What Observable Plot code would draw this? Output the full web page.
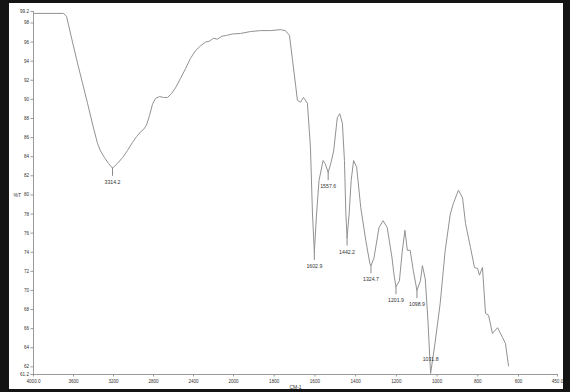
<!DOCTYPE html>
<html><head><meta charset="utf-8">
<script src="https://cdn.jsdelivr.net/npm/d3@7"></script>
<script src="https://cdn.jsdelivr.net/npm/@observablehq/plot@0.6"></script>
<style>
html,body{margin:0;padding:0;background:#141414;width:570px;height:392px;overflow:hidden}
#chart{position:absolute;left:9px;top:3px;width:554px;height:386px;background:#fff}
#chart svg{display:block}
</style></head><body><div id="chart"></div>
<script>
// FTIR spectrum: wavenumber (cm-1) and transmittance (%T)
const wavenumber = [3990, 3700, 3670, 3650, 3610, 3560, 3510, 3460, 3400, 3360, 3330, 3290, 3250, 3210,
  3160, 3110, 3060, 3010, 2970, 2930, 2900, 2870, 2840, 2810, 2780, 2740, 2700, 2660, 2620, 2580, 2530,
  2480, 2430, 2380, 2330, 2280, 2240, 2200, 2160, 2120, 2070, 2010,
  1966, 1917, 1867, 1818, 1769, 1745, 1725, 1710, 1695, 1686, 1671, 1656, 1637, 1622, 1612, 1602.9,
  1592, 1580, 1560, 1550, 1535, 1522, 1508, 1490, 1478, 1465, 1455, 1448, 1442.2, 1432, 1422, 1410,
  1395, 1375, 1350, 1330, 1324.7, 1310, 1285, 1265, 1245, 1222, 1210, 1201.9, 1185, 1172, 1158, 1146,
  1132, 1117, 1098.9, 1082, 1072, 1058, 1045, 1031.8, 1010, 985, 960, 935, 920, 895, 875, 860, 836,
  816, 801, 792, 777, 762, 747, 728, 703, 679, 664, 649];
const transmittance = [99.0, 99.0, 98.7, 97.8, 96.0, 93.8, 91.7, 89.6, 87.0, 85.4, 84.6, 83.9, 83.3, 82.8,
  83.3, 83.9, 84.65, 85.5, 86.1, 86.6, 86.85, 87.3, 88.3, 89.5, 90.1, 90.3, 90.2, 90.2, 90.6, 91.2, 92.2,
  93.2, 94.3, 95.1, 95.6, 96.0, 96.1, 96.4, 96.3, 96.6, 96.7, 96.85,
  96.9, 97.1, 97.2, 97.2, 97.3, 97.2, 96.7, 94.1, 91.5, 89.9, 89.7, 90.2, 89.6, 85.0, 78.0, 74.0,
  78.0, 81.5, 83.6, 83.3, 82.35, 83.3, 84.6, 88.1, 88.5, 87.5, 83.6, 78.0, 75.5, 78.0, 81.5, 83.6,
  82.9, 78.7, 75.2, 72.8, 72.6, 73.4, 76.6, 77.3, 76.6, 73.5, 71.4, 70.4, 71.0, 73.9, 76.3, 74.2,
  74.2, 72.1, 70.0, 71.0, 72.6, 71.2, 66.9, 61.3, 64.5, 68.6, 74.2, 78.0, 79.1, 80.5, 79.7, 77.0, 74.5,
  72.4, 72.3, 71.6, 72.4, 67.6, 67.4, 65.5, 66.1, 65.1, 64.45, 62.1];
const peakLabels = ["3314.2", "1602.9", "1557.6", "1442.2", "1324.7", "1201.9", "1098.9", "1031.8"];
const xTicks = [4000, 3600, 3200, 2800, 2400, 2000, 1800, 1600, 1400, 1200, 1000, 800, 600, 450];
const yTicks = [61.2, 62, 64, 66, 68, 70, 72, 74, 76, 78, 80, 82, 84, 86, 88, 90, 92, 94, 96, 98, 99.2];
const xBreaks = [4000, 2000, 600, 450]; // instrument axis changes scale at 2000 and 600 cm-1
const xLabel = "CM-1";
const yLabel = "%T";

const spectrum = wavenumber.map((w, i) => ({w, t: transmittance[i]}));
// local minima of the trace; each band label marks the nearest one
const minima = spectrum.filter((d, i) => i > 0 && i < spectrum.length - 1 &&
  d.t < spectrum[i - 1].t && d.t < spectrum[i + 1].t);
const peaks = peakLabels.map(label => {
  const m = d3.least(minima, d => Math.abs(d.w - +label));
  return {label, w: m.w, t: m.t};
});
const yMin = yTicks[0], yMax = yTicks[yTicks.length - 1];
const below = peaks.filter(d => d.t - yMin > 2);
const above = peaks.filter(d => d.t - yMin <= 2);
const fmtX = d => (d === xTicks[0] || d === xTicks[xTicks.length - 1]) ? d.toFixed(1) : String(d);
const fmtY = d => Number.isInteger(d) ? String(d) : d.toFixed(1);

const chart = Plot.plot({
  width: 554, height: 386,
  marginLeft: 24, marginRight: 6, marginTop: 8, marginBottom: 15,
  style: {background: "transparent", fontFamily: "'Liberation Sans', Arial, sans-serif", color: "#333"},
  x: {type: "linear", domain: xBreaks, range: [24, 224, 509, 548]},
  y: {domain: [yMin, yMax]},
  marks: [
    Plot.ruleX([xBreaks[0]], {stroke: "#9a9a9a"}),
    Plot.ruleY([yMin], {stroke: "#9a9a9a"}),
    Plot.axisX({ticks: xTicks, tickFormat: fmtX, tickSize: 2.5, tickPadding: 3, fontSize: 4.6, label: null, stroke: "#999", fill: "#333"}),
    Plot.axisY({ticks: yTicks, tickFormat: fmtY, tickSize: 2.5, tickPadding: 2, fontSize: 4.6, label: null, stroke: "#999", fill: "#333"}),
    Plot.line(spectrum, {x: "w", y: "t", stroke: "#929292", strokeWidth: 1}),
    Plot.ruleX(below, {x: "w", y1: "t", y2: d => d.t - 0.85, stroke: "#888"}),
    Plot.text(below, {x: "w", y: "t", text: "label", dy: 14, fontSize: 5.2, fill: "#333"}),
    Plot.text(above, {x: "w", y: "t", text: "label", dy: -14, fontSize: 5.2, fill: "#333"}),
    Plot.text([yLabel], {frameAnchor: "left", y: 80, text: d => d, dx: -20, fontSize: 5, fill: "#333"}),
    Plot.text([xLabel], {frameAnchor: "bottom", text: d => d, dy: 14, fontSize: 5, fill: "#333"})
  ]
});
document.getElementById("chart").append(chart);
</script></body></html>
